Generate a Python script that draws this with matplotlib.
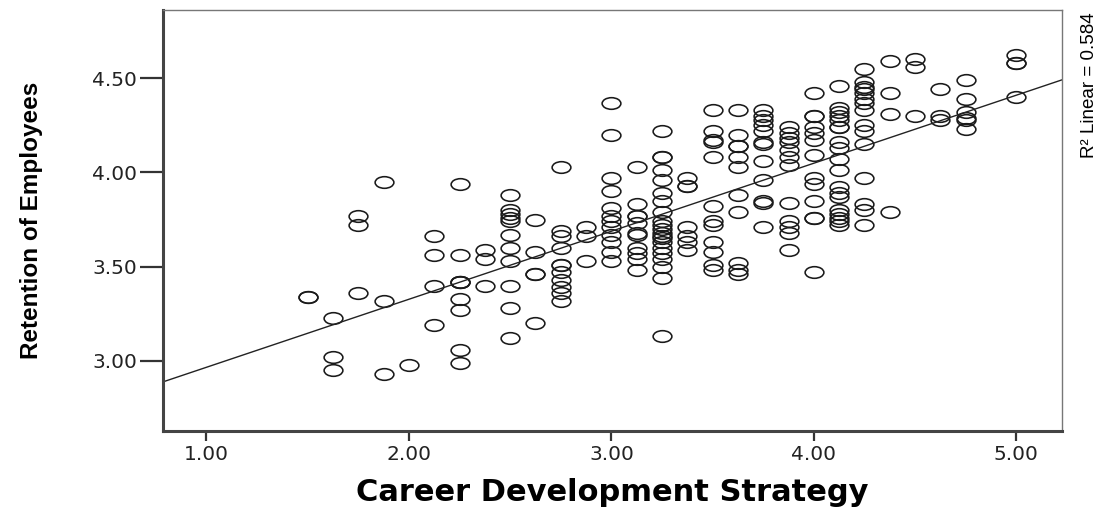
"""
Scatter of Retention of Employees against Career Development Strategy,
with the linear fit line (SPSS-style chart).
"""

import matplotlib
matplotlib.use('Agg')
import matplotlib.pyplot as plt
import numpy as np
from matplotlib.path import Path
from matplotlib.transforms import Affine2D

# ========================= Data ================
# Career Development Strategy score levels (x) and the Retention values
# observed at each level (y).
career_levels = [1.500, 1.625, 1.750, 1.875, 2.000, 2.125, 2.250, 2.375,
                 2.500, 2.625, 2.750, 2.875, 3.000, 3.125, 3.250, 3.375,
                 3.500, 3.625, 3.750, 3.875, 4.000, 4.125, 4.250, 4.375,
                 4.500, 4.625, 4.750, 5.000]

retention_by_level = [
    [3.34, 3.34],
    [3.23, 3.02, 2.95],
    [3.77, 3.72, 3.36],
    [3.95, 3.32, 2.93],
    [2.98],
    [3.66, 3.56, 3.40, 3.19],
    [3.94, 3.56, 3.42, 3.42, 3.42, 3.33, 3.27, 3.06, 2.99],
    [3.59, 3.54, 3.40],
    [3.88, 3.80, 3.78, 3.76, 3.74, 3.67, 3.60, 3.53, 3.40, 3.28, 3.12],
    [3.75, 3.58, 3.46, 3.46, 3.20],
    [4.03, 3.69, 3.66, 3.60, 3.51, 3.51, 3.47, 3.43, 3.39, 3.36, 3.32],
    [3.71, 3.66, 3.53],
    [4.37, 4.20, 3.97, 3.90, 3.81, 3.77, 3.74, 3.71, 3.67, 3.63, 3.58, 3.53],
    [4.03, 3.83, 3.77, 3.77, 3.73, 3.68, 3.67, 3.60, 3.57, 3.54, 3.48],
    [4.22, 4.08, 4.08, 4.01, 3.96, 3.89, 3.85, 3.79, 3.74, 3.72, 3.70,
     3.68, 3.66, 3.65, 3.63, 3.60, 3.57, 3.54, 3.50, 3.44, 3.13],
    [3.97, 3.93, 3.93, 3.71, 3.66, 3.63, 3.59],
    [4.33, 4.22, 4.17, 4.16, 4.08, 3.82, 3.74, 3.72, 3.63, 3.58, 3.51, 3.48],
    [4.33, 4.20, 4.14, 4.14, 4.08, 4.03, 3.88, 3.79, 3.52, 3.48, 3.46],
    [4.33, 4.30, 4.28, 4.25, 4.22, 4.16, 4.15, 4.06, 3.96, 3.85, 3.84, 3.71],
    [4.24, 4.21, 4.18, 4.16, 4.12, 4.08, 4.04, 3.84, 3.74, 3.71, 3.68, 3.59],
    [4.42, 4.30, 4.30, 4.24, 4.21, 4.17, 4.09, 3.97, 3.94, 3.85, 3.76,
     3.76, 3.47],
    [4.46, 4.34, 4.32, 4.30, 4.28, 4.24, 4.24, 4.16, 4.13, 4.07, 4.01,
     3.92, 3.89, 3.87, 3.80, 3.78, 3.76, 3.74, 3.72],
    [4.55, 4.48, 4.45, 4.44, 4.42, 4.39, 4.37, 4.33, 4.25, 4.22, 4.15,
     3.97, 3.83, 3.80, 3.72],
    [4.59, 4.42, 4.31, 3.79],
    [4.60, 4.56, 4.30],
    [4.44, 4.30, 4.28],
    [4.49, 4.39, 4.32, 4.29, 4.28, 4.23],
    [4.62, 4.58, 4.58, 4.40],
]

# Linear fit as drawn by SPSS (R^2 = 0.584)
FIT_INTERCEPT = 2.606
FIT_SLOPE = 0.3606
R2_TEXT = 'R\u00b2 Linear = 0.584'

X_TICKS = [1.0, 2.0, 3.0, 4.0, 5.0]
Y_TICKS = [3.0, 3.5, 4.0, 4.5]

# ========================= Build arrays ===============================
career = np.concatenate([[lv] * len(ys) for lv, ys
                         in zip(career_levels, retention_by_level)])
retention = np.concatenate(retention_by_level)

# ========================= Plot =======================================
fig = plt.figure(figsize=(11.07, 5.07), dpi=100)
ax = fig.add_axes([0.1472, 0.150, 0.812, 0.830])

# SPSS draws open ellipse-looking circles (chart was stretched sideways)
ellipse = Path.unit_circle().transformed(Affine2D().scale(1.0, 0.62))
ax.plot(career, retention, linestyle='none', marker=ellipse,
        markersize=13.5, markerfacecolor='none', markeredgecolor='#1a1a1a',
        markeredgewidth=1.15)

xlim = (0.785, 5.225)
ylim = (2.629, 4.860)
fit_x = np.array(xlim)
ax.plot(fit_x, FIT_INTERCEPT + FIT_SLOPE * fit_x, color='#222222',
        linewidth=1.0)

ax.set_xlim(xlim)
ax.set_ylim(ylim)
ax.set_xticks(X_TICKS)
ax.set_xticklabels(['%.2f' % t for t in X_TICKS])
ax.set_yticks(Y_TICKS)
ax.set_yticklabels(['%.2f' % t for t in Y_TICKS])

ax.tick_params(axis='x', length=7, width=1.6, color='#333333', pad=3,
               labelsize=14.5, labelcolor='#222222')
ax.tick_params(axis='y', length=16.5, width=1.6, color='#333333', pad=2,
               labelsize=14.5, labelcolor='#222222')

for side in ('left', 'bottom'):
    ax.spines[side].set_linewidth(2.2)
    ax.spines[side].set_color('#444444')
for side in ('top', 'right'):
    ax.spines[side].set_linewidth(1.0)
    ax.spines[side].set_color('#777777')

ax.set_xlabel('Career Development Strategy', fontsize=22, fontweight='bold',
              family=['DejaVu Sans'])
ax.xaxis.set_label_coords(0.4995, -0.112)

ax.set_ylabel('Retention of Employees', fontsize=17.5, fontweight='bold',
              family=['Liberation Sans', 'DejaVu Sans'])
ax.yaxis.set_label_coords(-0.133, 0.5)

fig.text(1089 / 1107, 1 - 12 / 507, R2_TEXT, rotation=90, ha='center',
         va='top', fontsize=13.5,
         family=['Liberation Sans', 'DejaVu Sans'])

plt.savefig('out.png', dpi=100)
